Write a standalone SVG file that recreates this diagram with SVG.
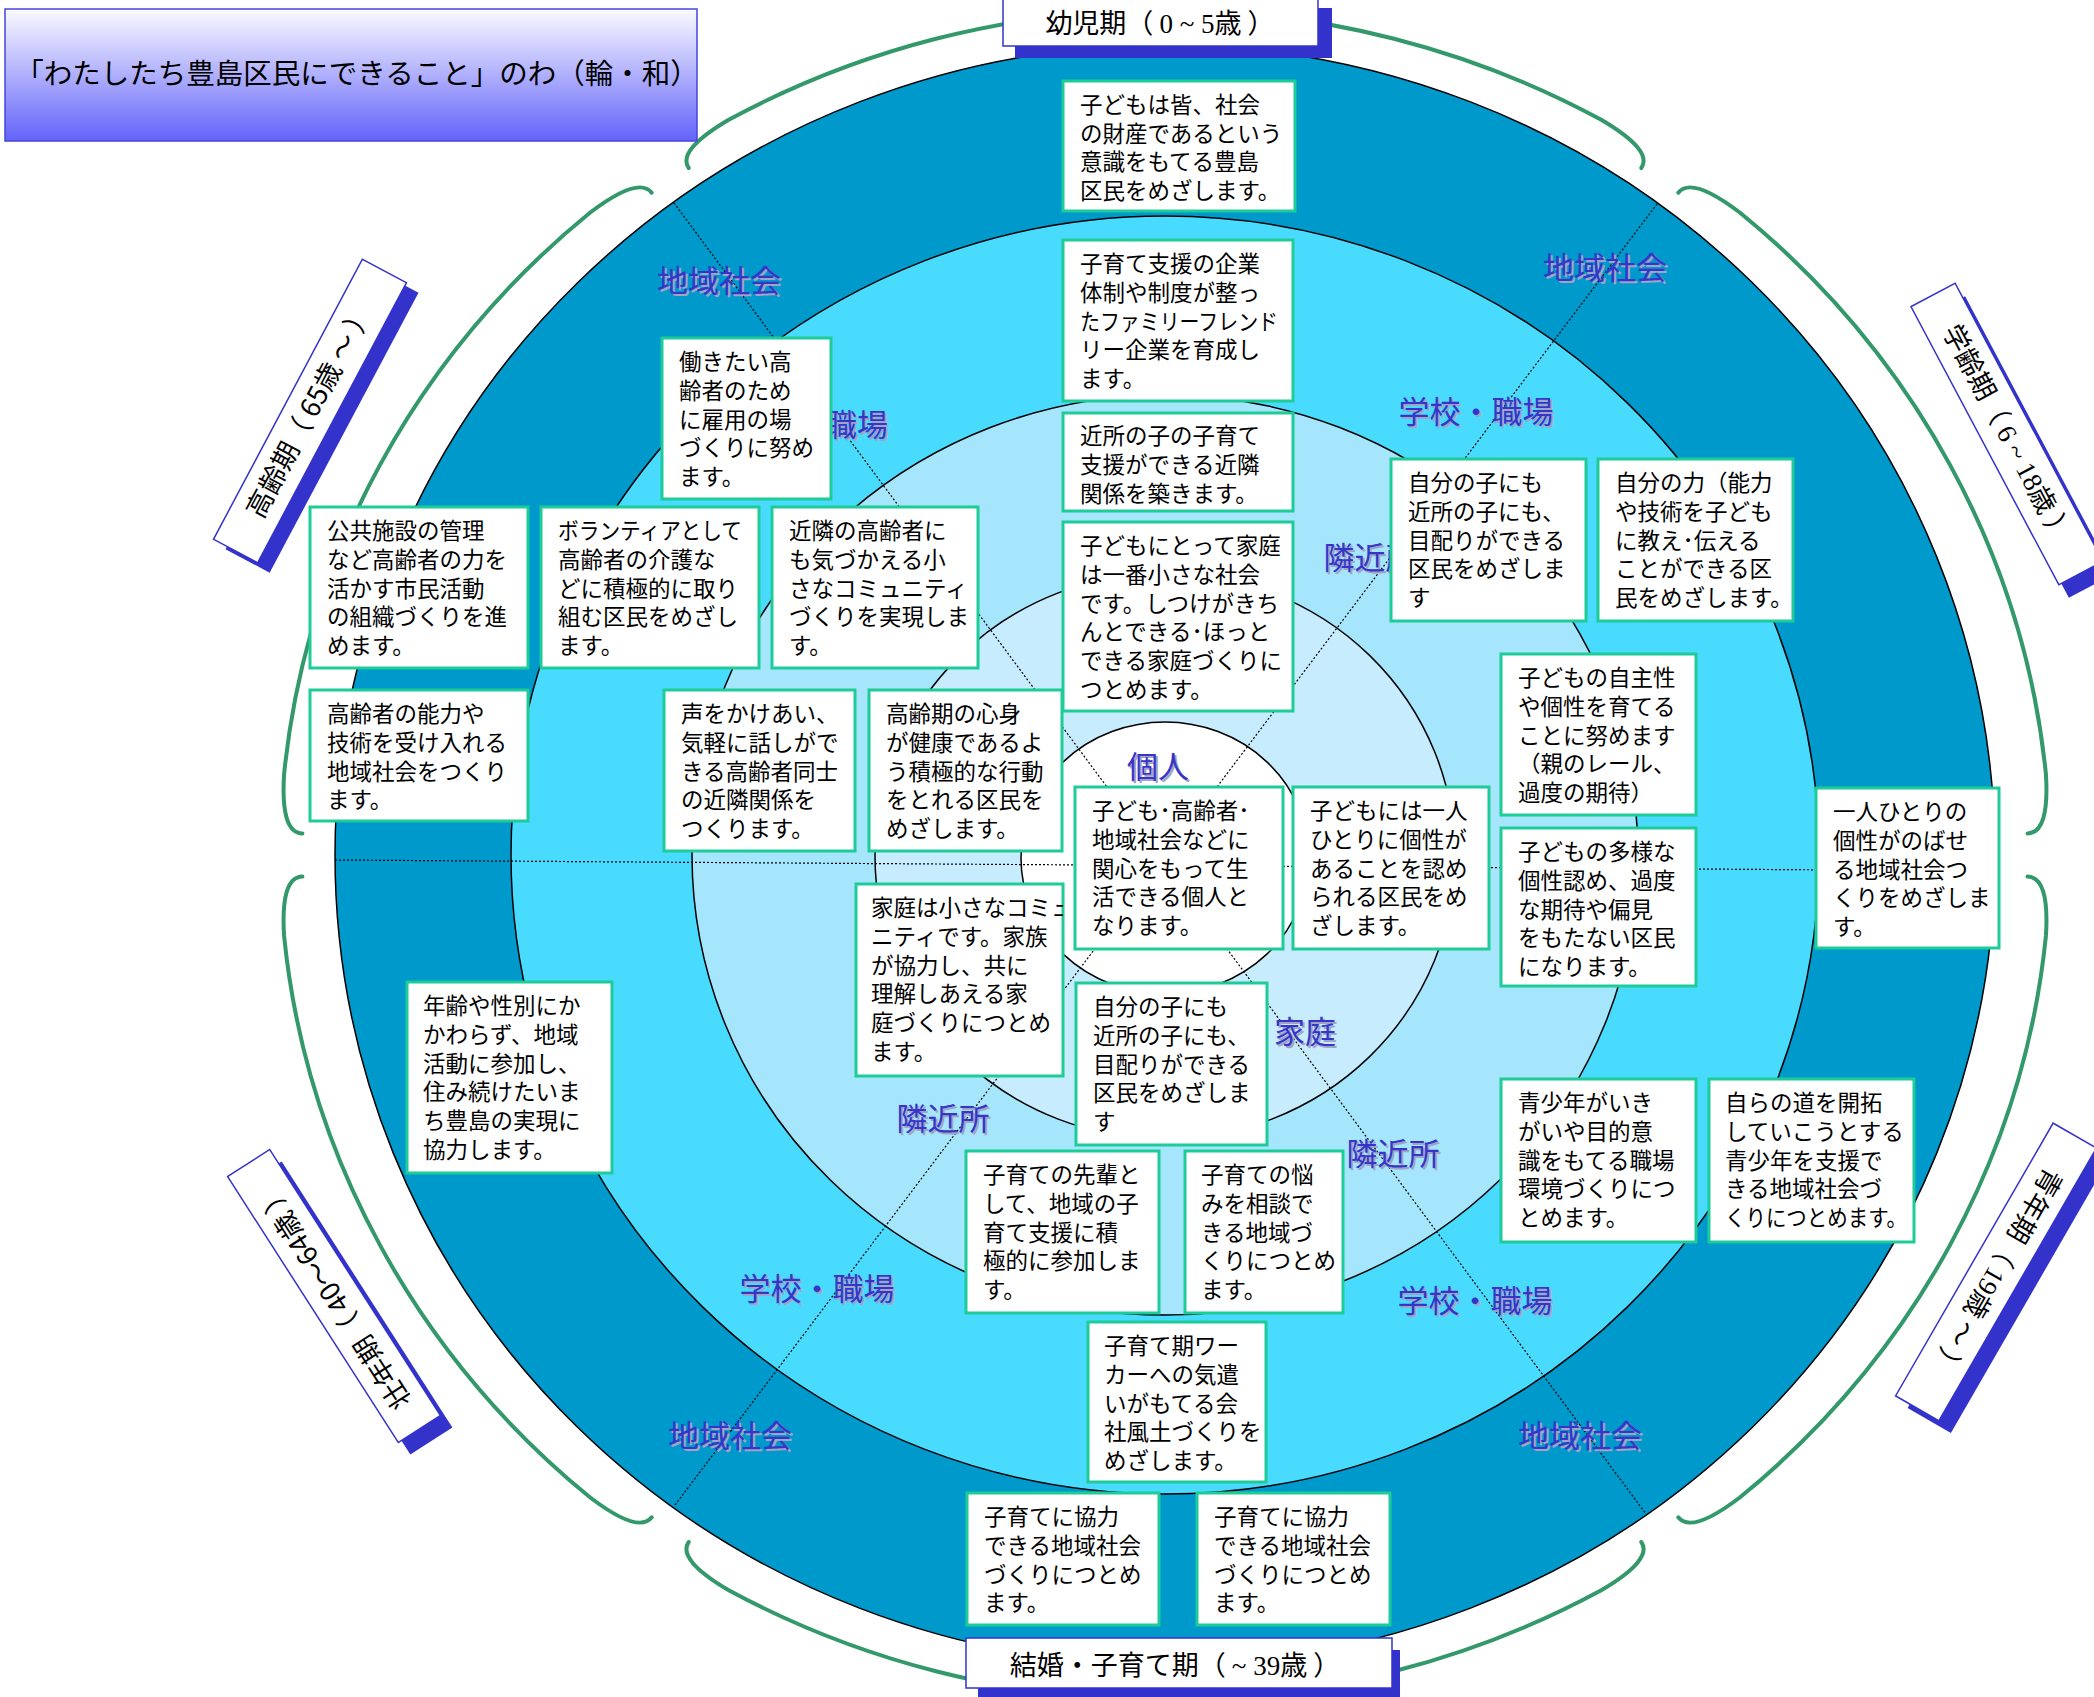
<svg xmlns="http://www.w3.org/2000/svg" width="2094" height="1697" viewBox="0 0 2094 1697">
<defs>
<style>
.ring{stroke:#000;stroke-width:1.5}
.box rect{fill:#fff;stroke:#1ecc98;stroke-width:3}
.bt{font-family:"Noto Sans CJK JP","Noto Sans",sans-serif;font-size:22.5px;fill:#000}
.rl{font-family:"Noto Sans CJK JP","Noto Sans",sans-serif;font-size:31px;text-anchor:middle}
.rl .sh{fill:#a3a3c6}
.rl .fg{fill:#3535c8}
.brk{fill:none;stroke:#33996a;stroke-width:4;stroke-linecap:round}
.dot{fill:none;stroke:#000;stroke-width:1.2;stroke-dasharray:2 2}
.age .s{fill:#3333cc}
.age .f{fill:#fff;stroke:#3333cc;stroke-width:1.5}
.at{font-family:"Noto Sans CJK JP","Noto Sans",sans-serif;font-size:27px;fill:#000;text-anchor:middle}
.sf{font-family:"Liberation Serif",serif}
</style>
<linearGradient id="tg" x1="0" y1="0" x2="0" y2="1">
<stop offset="0" stop-color="#fbfbff"/>
<stop offset="1" stop-color="#6363fb"/>
</linearGradient>
<clipPath id="clipS"><rect x="856" y="884" width="207" height="192"/></clipPath>
</defs>
<rect width="2094" height="1697" fill="#fff"/>

<g id="rings">
<ellipse class="ring" cx="1165" cy="855" rx="830" ry="810" fill="#0099cc"/>
<ellipse class="ring" cx="1165" cy="855" rx="654" ry="639" fill="#48dbfe"/>
<ellipse class="ring" cx="1165" cy="855" rx="473" ry="460" fill="#a5e6fc"/>
<ellipse class="ring" cx="1165" cy="856" rx="290" ry="283" fill="#c7ecfd"/>
<ellipse class="ring" cx="1165" cy="858" rx="144" ry="136" fill="#ffffff"/>
</g>

<g id="connectors">
<path class="brk" d="M2027.6 876.6 Q2049.7 877.1 2045.9 936 A885 845 0 0 1 1739.8 1497.5 Q1691.4 1534.3 1678.3 1517.3"/>
<path class="brk" d="M1641.3 1542 Q1653.5 1559.6 1600.8 1590.5 A885 845 0 0 1 729.2 1590.5 Q676.5 1559.6 688.7 1542"/>
<path class="brk" d="M651.7 1517.3 Q638.6 1534.3 590.2 1497.5 A885 845 0 0 1 284.1 936 Q280.3 877.1 302.4 876.6"/>
<path class="brk" d="M302.4 833.4 Q280.3 832.9 284.1 774 A885 845 0 0 1 590.2 212.5 Q638.6 175.7 651.7 192.7"/>
<path class="brk" d="M688.7 168 Q676.5 150.4 729.2 119.5 A885 845 0 0 1 1600.8 119.5 Q1653.5 150.4 1641.3 168"/>
<path class="brk" d="M1678.3 192.7 Q1691.4 175.7 1739.8 212.5 A885 845 0 0 1 2045.9 774 Q2049.7 832.9 2027.6 833.4"/>
<line class="dot" x1="674" y1="203" x2="1646" y2="1514"/>
<line class="dot" x1="1657" y1="204" x2="675" y2="1505"/>
<line class="dot" x1="335" y1="860" x2="1995" y2="871"/>
</g>

<g id="ring-labels" class="rl">
<text class="sh" x="721" y="294">地域社会</text><text class="fg" x="719" y="292">地域社会</text>
<text class="sh" x="1607" y="281">地域社会</text><text class="fg" x="1605" y="279">地域社会</text>
<text class="sh" x="859" y="438">職場</text><text class="fg" x="857" y="436">職場</text>
<text class="sh" x="1478" y="425">学校・職場</text><text class="fg" x="1476" y="423">学校・職場</text>
<text class="sh" x="1372" y="571">隣近所</text><text class="fg" x="1370" y="569">隣近所</text>
<text class="sh" x="1160" y="780">個人</text><text class="fg" x="1158" y="778">個人</text>
<text class="sh" x="1307" y="1045">家庭</text><text class="fg" x="1305" y="1043">家庭</text>
<text class="sh" x="945" y="1132">隣近所</text><text class="fg" x="943" y="1130">隣近所</text>
<text class="sh" x="1395" y="1167">隣近所</text><text class="fg" x="1393" y="1165">隣近所</text>
<text class="sh" x="819" y="1302">学校・職場</text><text class="fg" x="817" y="1300">学校・職場</text>
<text class="sh" x="1477" y="1314">学校・職場</text><text class="fg" x="1475" y="1312">学校・職場</text>
<text class="sh" x="732" y="1449">地域社会</text><text class="fg" x="730" y="1447">地域社会</text>
<text class="sh" x="1582" y="1449">地域社会</text><text class="fg" x="1580" y="1447">地域社会</text>
</g>

<g id="title">
<rect x="5" y="9" width="692" height="132" fill="url(#tg)" stroke="#4545dd" stroke-width="1.5"/>
<text x="357" y="84" font-family="'Noto Sans CJK JP','Noto Sans',sans-serif" font-size="28.5" text-anchor="middle" fill="#000">「わたしたち豊島区民にできること」のわ（輪・和）</text>
</g>

<g id="age-infant" class="age">
<rect class="s" x="1015" y="8" width="317" height="50"/>
<rect class="f" x="1003" y="-4" width="315" height="50"/>
<text class="at" x="1160" y="33" font-size="28">幼児期（ <tspan class="sf">0 ~ 5</tspan>歳 ）</text>
</g>
<g id="age-school" class="age">
<rect class="s" x="-157.5" y="-25" width="315" height="50" transform="translate(2017 447) rotate(62)"/>
<g transform="translate(2007 434) rotate(62)">
<rect class="f" x="-157.5" y="-25" width="315" height="50"/>
<text class="at" x="0" y="9">学齢期（ <tspan class="sf">6 ~ 18</tspan>歳 ）</text>
</g>
</g>
<g id="age-youth" class="age">
<rect class="s" x="-157.5" y="-25" width="315" height="50" transform="translate(2008 1284) rotate(120)"/>
<g transform="translate(1996 1272) rotate(120)">
<rect class="f" x="-157.5" y="-25" width="315" height="50"/>
<text class="at" x="0" y="9">青年期（ <tspan class="sf">19</tspan>歳 ～ ）</text>
</g>
</g>
<g id="age-family" class="age">
<rect class="s" x="978" y="1650" width="422" height="50"/>
<rect class="f" x="966" y="1638" width="426" height="50"/>
<text class="at" x="1175" y="1675" font-size="28">結婚・子育て期（ <tspan class="sf">~ 39</tspan>歳 ）</text>
</g>
<g id="age-prime" class="age">
<rect class="s" x="-158" y="-25" width="316" height="50" transform="translate(346 1308) rotate(-122.7)"/>
<g transform="translate(334 1296) rotate(-122.7)">
<rect class="f" x="-158" y="-25" width="316" height="50"/>
<text class="at" x="0" y="9">壮年期（ 40～64歳 ）</text>
</g>
</g>
<g id="age-senior" class="age">
<rect class="s" x="-158.5" y="-25" width="317" height="50" transform="translate(322 421) rotate(-62)"/>
<g transform="translate(310 411) rotate(-62)">
<rect class="f" x="-158.5" y="-25" width="317" height="50"/>
<text class="at" x="0" y="9">高齢期（ 65歳 ～ ）</text>
</g>
</g>

<g id="n-a" class="box"><rect x="1063" y="81" width="232" height="130"/>
<text class="bt"><tspan x="1080" y="113">子どもは皆、社会</tspan><tspan x="1080" y="142">の財産であるという</tspan><tspan x="1080" y="170">意識をもてる豊島</tspan><tspan x="1080" y="199">区民をめざします。</tspan></text></g>

<g id="n-b" class="box"><rect x="1063" y="240" width="230" height="161"/>
<text class="bt"><tspan x="1080" y="272">子育て支援の企業</tspan><tspan x="1080" y="301">体制や制度が整っ</tspan><tspan x="1080" y="330" textLength="198" lengthAdjust="spacingAndGlyphs">たファミリーフレンド</tspan><tspan x="1080" y="358">リー企業を育成し</tspan><tspan x="1080" y="387">ます。</tspan></text></g>

<g id="n-c" class="box"><rect x="1063" y="413" width="230" height="98"/>
<text class="bt"><tspan x="1080" y="444">近所の子の子育て</tspan><tspan x="1080" y="473">支援ができる近隣</tspan><tspan x="1080" y="502">関係を築きます。</tspan></text></g>

<g id="n-d" class="box"><rect x="1063" y="522" width="230" height="189"/>
<text class="bt"><tspan x="1080" y="554">子どもにとって家庭</tspan><tspan x="1080" y="583">は一番小さな社会</tspan><tspan x="1080" y="612">です。しつけがきち</tspan><tspan x="1080" y="640">んとできる･ほっと</tspan><tspan x="1080" y="669">できる家庭づくりに</tspan><tspan x="1080" y="698">つとめます。</tspan></text></g>

<g id="n-e" class="box"><rect x="662" y="338" width="169" height="161"/>
<text class="bt"><tspan x="679" y="370">働きたい高</tspan><tspan x="679" y="399">齢者のため</tspan><tspan x="679" y="428">に雇用の場</tspan><tspan x="679" y="456">づくりに努め</tspan><tspan x="679" y="485">ます。</tspan></text></g>

<g id="n-f" class="box"><rect x="310" y="507" width="218" height="161"/>
<text class="bt"><tspan x="327" y="539">公共施設の管理</tspan><tspan x="327" y="568">など高齢者の力を</tspan><tspan x="327" y="597">活かす市民活動</tspan><tspan x="327" y="625">の組織づくりを進</tspan><tspan x="327" y="654">めます。</tspan></text></g>

<g id="n-g" class="box"><rect x="541" y="507" width="218" height="161"/>
<text class="bt"><tspan x="558" y="539" textLength="184" lengthAdjust="spacingAndGlyphs">ボランティアとして</tspan><tspan x="558" y="568">高齢者の介護な</tspan><tspan x="558" y="597">どに積極的に取り</tspan><tspan x="558" y="625">組む区民をめざし</tspan><tspan x="558" y="654">ます。</tspan></text></g>

<g id="n-h" class="box"><rect x="772" y="507" width="206" height="161"/>
<text class="bt"><tspan x="789" y="539">近隣の高齢者に</tspan><tspan x="789" y="568">も気づかえる小</tspan><tspan x="789" y="597">さなコミュニティ</tspan><tspan x="789" y="625">づくりを実現しま</tspan><tspan x="789" y="654">す。</tspan></text></g>

<g id="n-i" class="box"><rect x="310" y="690" width="218" height="131"/>
<text class="bt"><tspan x="327" y="722">高齢者の能力や</tspan><tspan x="327" y="751">技術を受け入れる</tspan><tspan x="327" y="780">地域社会をつくり</tspan><tspan x="327" y="808">ます。</tspan></text></g>

<g id="n-j" class="box"><rect x="664" y="690" width="191" height="161"/>
<text class="bt"><tspan x="681" y="722">声をかけあい、</tspan><tspan x="681" y="751">気軽に話しがで</tspan><tspan x="681" y="780">きる高齢者同士</tspan><tspan x="681" y="808">の近隣関係を</tspan><tspan x="681" y="837">つくります。</tspan></text></g>

<g id="n-k" class="box"><rect x="869" y="690" width="193" height="161"/>
<text class="bt"><tspan x="886" y="722">高齢期の心身</tspan><tspan x="886" y="751">が健康であるよ</tspan><tspan x="886" y="780">う積極的な行動</tspan><tspan x="886" y="808">をとれる区民を</tspan><tspan x="886" y="837">めざします。</tspan></text></g>

<g id="n-l" class="box"><rect x="1075" y="787" width="208" height="162"/>
<text class="bt"><tspan x="1092" y="819">子ども･高齢者･</tspan><tspan x="1092" y="848">地域社会などに</tspan><tspan x="1092" y="877">関心をもって生</tspan><tspan x="1092" y="905">活できる個人と</tspan><tspan x="1092" y="934">なります。</tspan></text></g>

<g id="n-m" class="box"><rect x="1293" y="787" width="196" height="162"/>
<text class="bt"><tspan x="1310" y="819">子どもには一人</tspan><tspan x="1310" y="848">ひとりに個性が</tspan><tspan x="1310" y="877">あることを認め</tspan><tspan x="1310" y="905">られる区民をめ</tspan><tspan x="1310" y="934">ざします。</tspan></text></g>

<g id="n-n" class="box"><rect x="1501" y="654" width="195" height="161"/>
<text class="bt"><tspan x="1518" y="686">子どもの自主性</tspan><tspan x="1518" y="715">や個性を育てる</tspan><tspan x="1518" y="744">ことに努めます</tspan><tspan x="1518" y="772">（親のレール、</tspan><tspan x="1518" y="801">過度の期待）</tspan></text></g>

<g id="n-o" class="box"><rect x="1501" y="828" width="195" height="158"/>
<text class="bt"><tspan x="1518" y="860">子どもの多様な</tspan><tspan x="1518" y="889">個性認め、過度</tspan><tspan x="1518" y="918">な期待や偏見</tspan><tspan x="1518" y="946">をもたない区民</tspan><tspan x="1518" y="975">になります。</tspan></text></g>

<g id="n-p" class="box"><rect x="1391" y="459" width="195" height="162"/>
<text class="bt"><tspan x="1408" y="491">自分の子にも</tspan><tspan x="1408" y="520">近所の子にも、</tspan><tspan x="1408" y="549">目配りができる</tspan><tspan x="1408" y="577">区民をめざしま</tspan><tspan x="1408" y="606">す</tspan></text></g>

<g id="n-q" class="box"><rect x="1598" y="459" width="195" height="162"/>
<text class="bt"><tspan x="1615" y="491">自分の力（能力</tspan><tspan x="1615" y="520">や技術を子ども</tspan><tspan x="1615" y="549">に教え･伝える</tspan><tspan x="1615" y="577">ことができる区</tspan><tspan x="1615" y="606">民をめざします。</tspan></text></g>

<g id="n-r" class="box"><rect x="1816" y="788" width="183" height="160"/>
<text class="bt"><tspan x="1833" y="820">一人ひとりの</tspan><tspan x="1833" y="849">個性がのばせ</tspan><tspan x="1833" y="878">る地域社会つ</tspan><tspan x="1833" y="906">くりをめざしま</tspan><tspan x="1833" y="935">す。</tspan></text></g>

<g id="n-s" class="box"><rect x="856" y="884" width="207" height="192"/>
<text class="bt" clip-path="url(#clipS)"><tspan x="871" y="916">家庭は小さなコミュ</tspan><tspan x="871" y="945">ニティです。家族</tspan><tspan x="871" y="974">が協力し、共に</tspan><tspan x="871" y="1002">理解しあえる家</tspan><tspan x="871" y="1031">庭づくりにつとめ</tspan><tspan x="871" y="1060">ます。</tspan></text></g>

<g id="n-t" class="box"><rect x="1076" y="983" width="191" height="162"/>
<text class="bt"><tspan x="1093" y="1015">自分の子にも</tspan><tspan x="1093" y="1044">近所の子にも、</tspan><tspan x="1093" y="1073">目配りができる</tspan><tspan x="1093" y="1101">区民をめざしま</tspan><tspan x="1093" y="1130">す</tspan></text></g>

<g id="n-u" class="box"><rect x="407" y="982" width="205" height="191"/>
<text class="bt"><tspan x="423" y="1014">年齢や性別にか</tspan><tspan x="423" y="1043">かわらず、地域</tspan><tspan x="423" y="1072">活動に参加し、</tspan><tspan x="423" y="1100">住み続けたいま</tspan><tspan x="423" y="1129">ち豊島の実現に</tspan><tspan x="423" y="1158">協力します。</tspan></text></g>

<g id="n-v" class="box"><rect x="966" y="1151" width="193" height="162"/>
<text class="bt"><tspan x="983" y="1183">子育ての先輩と</tspan><tspan x="983" y="1212">して、地域の子</tspan><tspan x="983" y="1241">育て支援に積</tspan><tspan x="983" y="1269">極的に参加しま</tspan><tspan x="983" y="1298">す。</tspan></text></g>

<g id="n-w" class="box"><rect x="1185" y="1151" width="158" height="162"/>
<text class="bt"><tspan x="1201" y="1183">子育ての悩</tspan><tspan x="1201" y="1212">みを相談で</tspan><tspan x="1201" y="1241">きる地域づ</tspan><tspan x="1201" y="1269">くりにつとめ</tspan><tspan x="1201" y="1298">ます。</tspan></text></g>

<g id="n-x" class="box"><rect x="1501" y="1079" width="195" height="163"/>
<text class="bt"><tspan x="1518" y="1111">青少年がいき</tspan><tspan x="1518" y="1140">がいや目的意</tspan><tspan x="1518" y="1169">識をもてる職場</tspan><tspan x="1518" y="1197">環境づくりにつ</tspan><tspan x="1518" y="1226">とめます。</tspan></text></g>

<g id="n-y" class="box"><rect x="1709" y="1079" width="205" height="163"/>
<text class="bt"><tspan x="1725" y="1111">自らの道を開拓</tspan><tspan x="1725" y="1140">していこうとする</tspan><tspan x="1725" y="1169">青少年を支援で</tspan><tspan x="1725" y="1197">きる地域社会づ</tspan><tspan x="1725" y="1226" textLength="182" lengthAdjust="spacingAndGlyphs">くりにつとめます。</tspan></text></g>

<g id="n-z" class="box"><rect x="1088" y="1322" width="178" height="160"/>
<text class="bt"><tspan x="1104" y="1354">子育て期ワー</tspan><tspan x="1104" y="1383">カーへの気遣</tspan><tspan x="1104" y="1412">いがもてる会</tspan><tspan x="1104" y="1440">社風土づくりを</tspan><tspan x="1104" y="1469">めざします。</tspan></text></g>

<g id="n-aa" class="box"><rect x="967" y="1493" width="192" height="132"/>
<text class="bt"><tspan x="984" y="1525">子育てに協力</tspan><tspan x="984" y="1554">できる地域社会</tspan><tspan x="984" y="1583">づくりにつとめ</tspan><tspan x="984" y="1611">ます。</tspan></text></g>

<g id="n-ab" class="box"><rect x="1197" y="1493" width="193" height="132"/>
<text class="bt"><tspan x="1214" y="1525">子育てに協力</tspan><tspan x="1214" y="1554">できる地域社会</tspan><tspan x="1214" y="1583">づくりにつとめ</tspan><tspan x="1214" y="1611">ます。</tspan></text></g>
</svg>
